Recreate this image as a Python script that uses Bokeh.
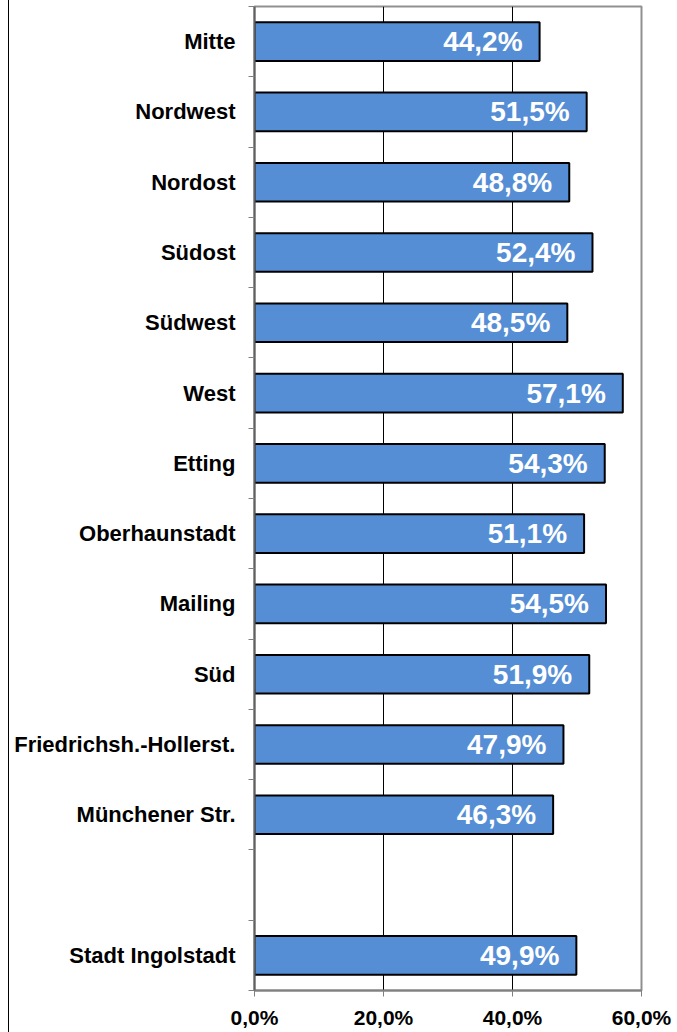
from bokeh.plotting import figure
from bokeh.models import Range1d, FixedTicker, ColumnDataSource, LabelSet, Div
from bokeh.layouts import row
from bokeh.core.properties import value
from bokeh.embed import file_html
from bokeh.resources import INLINE

categories = ["Mitte", "Nordwest", "Nordost", "Südost", "Südwest", "West", "Etting",
              "Oberhaunstadt", "Mailing", "Süd", "Friedrichsh.-Hollerst.",
              "Münchener Str.", "", "Stadt Ingolstadt"]
values = [44.2, 51.5, 48.8, 52.4, 48.5, 57.1, 54.3, 51.1, 54.5, 51.9, 47.9, 46.3, None, 49.9]
x_ticks = [0, 20, 40, 60]
x_tick_labels = ["0,0%", "20,0%", "40,0%", "60,0%"]

FONT = "Liberation Sans"

n = len(categories)
ys, vs, labs = [], [], []
for i, (c, v) in enumerate(zip(categories, values)):
    if v is None:
        continue
    ys.append(i + 0.5)
    vs.append(v)
    labs.append(f"{v:.1f}".replace(".", ",") + "%")
src = ColumnDataSource(dict(y=ys, v=vs, lab=labs))

p = figure(width=668, height=1032, output_backend="svg", toolbar_location=None,
           x_range=Range1d(0, 60), y_range=Range1d(n, 0),
           min_border_left=245, min_border_right=36, min_border_top=6, min_border_bottom=42)

p.hbar(y="y", right="v", left=0, height=0.55, source=src,
       fill_color="#558ED5", line_color="black", line_width=2)

p.add_layout(LabelSet(x="v", y="y", text="lab", source=src, x_offset=-17,
                      text_align="right", text_baseline="middle",
                      text_color="white", text_font=value(FONT), text_font_style="bold",
                      text_font_size="28px"))

# x axis
p.xaxis.ticker = FixedTicker(ticks=x_ticks)
p.xaxis.major_label_overrides = {t: l for t, l in zip(x_ticks, x_tick_labels)}
p.xaxis.major_label_text_font = FONT
p.xaxis.major_label_text_font_style = "bold"
p.xaxis.major_label_text_font_size = "21px"
p.xaxis.major_label_text_color = "black"
p.xaxis.axis_line_color = "#808080"
p.xaxis.axis_line_width = 2
p.xaxis.major_tick_line_color = "#808080"
p.xaxis.major_tick_out = 6
p.xaxis.major_tick_in = 0
p.xaxis.minor_tick_line_color = None
p.xaxis.major_label_standoff = 9

# y axis
centers = [i + 0.5 for i in range(n)]
bounds = [i for i in range(n + 1)]
p.yaxis.ticker = FixedTicker(ticks=centers, minor_ticks=bounds)
p.yaxis.major_label_overrides = {c: lab for c, lab in zip(centers, categories)}
p.yaxis.major_label_text_font = FONT
p.yaxis.major_label_text_font_style = "bold"
p.yaxis.major_label_text_font_size = "22px"
p.yaxis.major_label_text_color = "black"
p.yaxis.major_tick_line_color = None
p.yaxis.major_tick_out = 0
p.yaxis.major_tick_in = 0
p.yaxis.minor_tick_line_color = "#808080"
p.yaxis.minor_tick_out = 6
p.yaxis.minor_tick_in = 0
p.yaxis.axis_line_color = "#606060"
p.yaxis.axis_line_width = 2
p.yaxis.major_label_standoff = 13

# grid
p.xgrid.ticker = FixedTicker(ticks=[20, 40])
p.xgrid.grid_line_color = "black"
p.xgrid.grid_line_width = 1
p.ygrid.grid_line_color = None

p.outline_line_color = "#909090"
p.outline_line_width = 2
p.background_fill_color = "white"
p.border_fill_color = "white"

# thin dark line at the chart's left edge
edge = Div(text="", width=1, height=1032, margin=(0, 0, 0, 8),
           styles={"background-color": "black"})

layout = row(edge, p, spacing=0)

open("out.html", "w").write(file_html(layout, INLINE))
